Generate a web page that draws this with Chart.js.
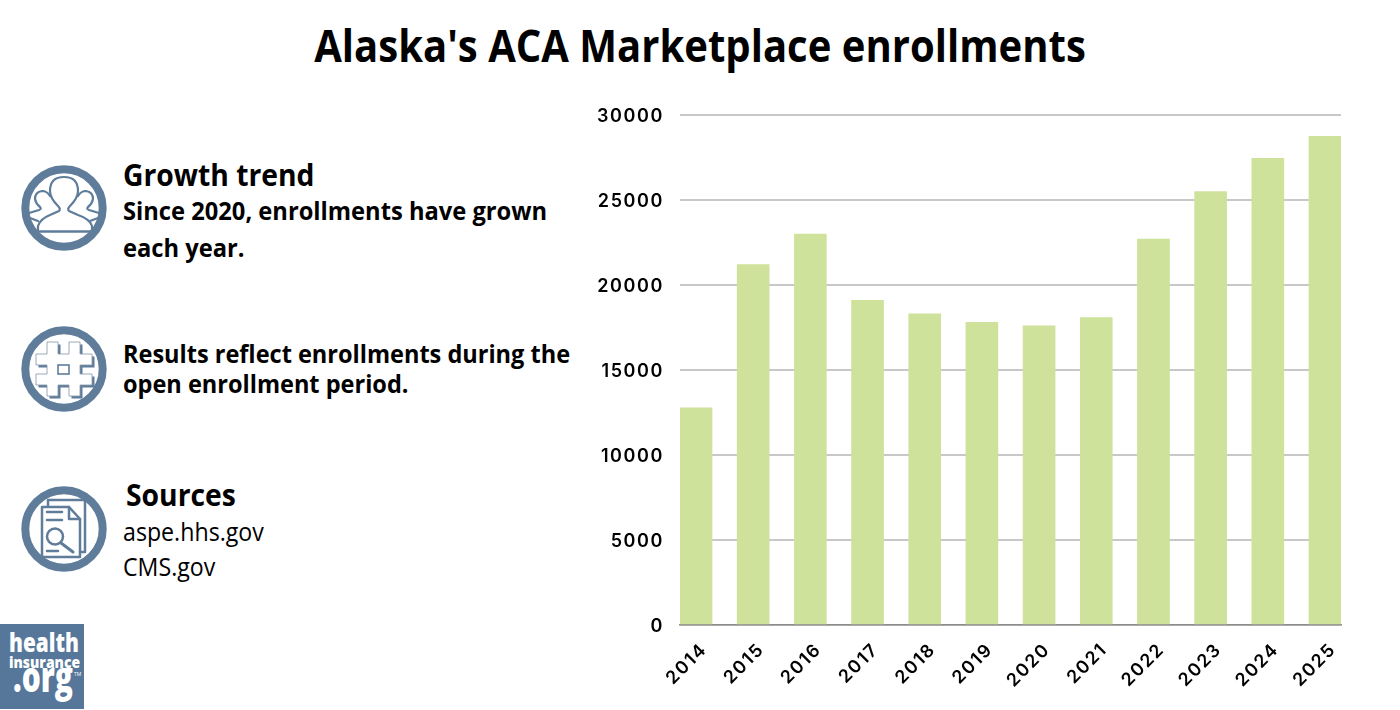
<!DOCTYPE html>
<html><head><meta charset="utf-8">
<script src="https://cdn.jsdelivr.net/npm/chart.js@4"></script>
<style>
html,body{margin:0;padding:0;background:#fff;width:1400px;height:710px;overflow:hidden}
#wrap{position:absolute;left:590px;top:0;width:810px;height:710px}
.t{position:absolute;white-space:nowrap;color:#000;font-family:"Open Sans",sans-serif;transform-origin:0 0}
svg{position:absolute;overflow:visible}
</style></head><body>
<div class="t" style="left:0;width:1400px;text-align:center;top:14px;font-size:45px;font-weight:700;line-height:62px;transform-origin:700px 0;transform:scaleX(.89)">Alaska's ACA Marketplace enrollments</div>
<div class="t" style="left:123px;top:155px;font-size:30px;font-weight:700;line-height:40px;transform:scaleX(.942)">Growth trend</div>
<div class="t" style="left:123px;top:192px;font-size:25px;font-weight:700;line-height:37px;transform:scaleX(.948)">Since 2020, enrollments have grown<br>each year.</div>
<div class="t" style="left:123px;top:338px;font-size:25px;font-weight:700;line-height:30px;transform:scaleX(.941)">Results reflect enrollments during the<br>open enrollment period.</div>
<div class="t" style="left:126px;top:475px;font-size:30px;font-weight:700;line-height:40px;transform:scaleX(.942)">Sources</div>
<div class="t" style="left:123px;top:514px;font-size:25px;font-weight:400;line-height:35px;transform:scaleX(.927)">aspe.hhs.gov<br>CMS.gov</div>

<svg style="left:0;top:0" width="1400" height="710" viewBox="0 0 1400 710">
 <g fill="none" stroke="#5f7d9b">
  <circle cx="64" cy="208" r="38.7" stroke-width="8"/>
  <circle cx="64" cy="369" r="38.7" stroke-width="8"/>
  <circle cx="64" cy="529" r="38.7" stroke-width="8"/>
  <g stroke-width="2.2" stroke-linejoin="round" stroke-linecap="round">
   <path d="M38 230V226Q40 219 50 215L59 211Q61 209 58 206Q50 198 50 191Q50 177 64 177Q78 177 78 191Q78 198 70 206Q67 209 69 211L78 215Q90 219 92 226V230"/>
   <path d="M38 231.5H91" stroke-width="2.6"/>
   <path d="M50 196Q47 191 42 191Q35 192 35 199Q36 204 40 207Q42 209 39 210L29 213"/>
   <path d="M78 196Q81 191 86 191Q93 192 93 199Q92 204 88 207Q86 209 89 210L99 213"/>
   <path d="M30 218L38 221M98 218L90 221"/>
  </g>
 </g>
 <path d="M47 342H58V354H69V342H80V354H92V365H80V374H92V385H80V396H69V385H58V396H47V385H36V374H47V365H36V354H47Z" transform="translate(2.5 2.5)" fill="#5f7d9b"/>
 <path d="M47 342H58V354H69V342H80V354H92V365H80V374H92V385H80V396H69V385H58V396H47V385H36V374H47V365H36V354H47Z" fill="#fff" stroke="#8795a5" stroke-width="0.8"/>
 <rect x="58" y="365" width="11" height="9" fill="#fff" stroke="#5f7d9b" stroke-width="1.6"/>
 <g fill="none" stroke="#5f7d9b" stroke-width="2.5" stroke-linejoin="round" stroke-linecap="round">
  <path d="M48 506V500H85V552H80"/>
  <path d="M42 507H69L80 519V557H42Z"/>
  <path d="M69 507V519H80"/>
  <path d="M47 512H62M47 520H62M47 551H58"/>
  <circle cx="55" cy="536.5" r="8"/>
  <path d="M61 543L73 552" stroke-width="3"/>
 </g>
 <rect x="0" y="624" width="84" height="85" fill="#567799"/>
 <g fill="#fff" font-family="'Open Sans',sans-serif" font-weight="800">
  <text x="9" y="652" font-size="26" textLength="70" lengthAdjust="spacingAndGlyphs">health</text>
  <text x="9" y="668" font-size="15.5" textLength="71" lengthAdjust="spacingAndGlyphs">insurance</text>
  <text x="13" y="692" font-size="42" textLength="60" lengthAdjust="spacingAndGlyphs">.org</text>
  <text x="74" y="676" font-size="5" font-weight="400">TM</text>
 </g>
</svg>
<div id="wrap"><canvas id="c" width="810" height="710"></canvas></div>
<script>
const years=[2014,2015,2016,2017,2018,2019,2020,2021,2022,2023,2024,2025];
const enrollments=[12780,21200,23000,19100,18300,17800,17600,18080,22700,25500,27450,28750];
const yTicks=[0,5000,10000,15000,20000,25000,30000];
const tickFont={family:'Inter',size:18,weight:'600'};
const spacing={id:'sp',beforeDraw(c){c.ctx.letterSpacing='1.6px';}};
new Chart(document.getElementById('c'),{
 type:'bar',
 data:{labels:years,datasets:[{data:enrollments,backgroundColor:'#cfe29c',barThickness:32,borderWidth:0}]},
 plugins:[spacing],
 options:{
  responsive:false,animation:false,devicePixelRatio:1,
  layout:{padding:{top:115,right:59,left:0,bottom:0}},
  plugins:{legend:{display:false},title:{display:false},tooltip:{enabled:false}},
  scales:{
   x:{type:'linear',offset:false,min:2013.72,max:2025.28,
      afterBuildTicks(a){a.ticks=years.map(v=>({value:v}));},
      afterFit(a){a.height=85;},
      grid:{display:false},
      border:{display:true,color:'#8c8c8c',width:1.5},
      ticks:{autoSkip:false,minRotation:45,maxRotation:45,padding:6,color:'#000',font:tickFont,labelOffset:8,callback:v=>String(v)}},
   y:{min:0,max:30000,
      afterBuildTicks(a){a.ticks=yTicks.map(v=>({value:v}));},
      afterFit(a){a.width=90;},
      grid:{color:'#c8c8c8',lineWidth:2,drawTicks:false},
      border:{display:false},
      ticks:{padding:16,color:'#000',font:tickFont,labelOffset:1.5,callback:v=>String(v)}}
  }
 }
});
</script>
</body></html>
